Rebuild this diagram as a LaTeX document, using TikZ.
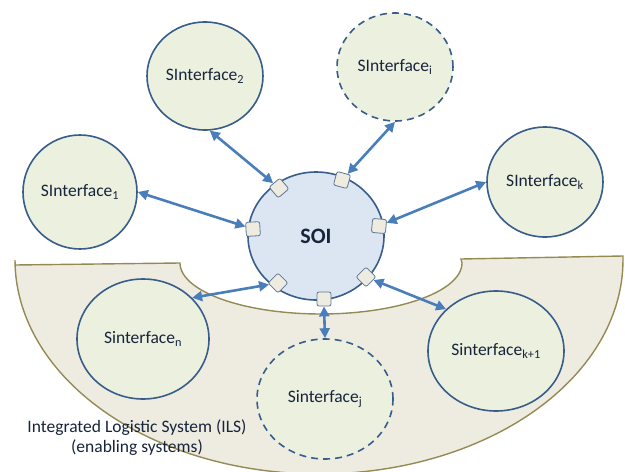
\documentclass[tikz,border=0pt]{standalone}
\usepackage{fontspec}
\setmainfont{Carlito}
\usetikzlibrary{arrows.meta,shapes.geometric}
\definecolor{arrblue}{HTML}{4A7EBB}
\definecolor{circline}{HTML}{385D8A}
\definecolor{circfill}{HTML}{EBF1DE}
\definecolor{soifill}{HTML}{DCE6F2}
\definecolor{ilsfill}{HTML}{EEECE1}
\definecolor{ilsline}{HTML}{948A54}
\definecolor{txt}{HTML}{17243B}
\definecolor{sqline}{HTML}{5F7594}
\tikzset{
  sys/.style={ellipse, draw=circline, fill=circfill, line width=1.6pt, inner sep=0pt,
    text=txt, font=\fontsize{17.5}{20}\selectfont},
  sysdash/.style={sys, dash pattern=on 7pt off 5pt},
  soi/.style={ellipse, draw=circline, fill=soifill, line width=1.6pt, inner sep=0pt,
    text=txt, font=\fontsize{22}{24}\selectfont\bfseries},
  port/.style={rectangle, draw=sqline, fill=ilsfill, line width=0.8pt, rounded corners=2pt,
    minimum size=14pt, inner sep=0pt},
  link/.style={draw=arrblue, line width=2.6pt,
    {Triangle[length=10pt,width=10pt]}-{Triangle[length=10pt,width=10pt]}},
  ils/.style={draw=ilsline, fill=ilsfill, line width=1.4pt}
}
\begin{document}
\begin{tikzpicture}[x=1pt,y=-1pt]
\useasboundingbox (0,0) rectangle (625,472);
% ILS region
\draw[ils] (15,265) -- (180,263)
  -- plot[domain=180:0,samples=80] ({321+141*cos(\x)},{263+51*sin(\x)})
  -- (461,259) -- (623,256)
  -- plot[domain=0:180,samples=120] ({319+304*cos(\x)},{260+214*sin(\x)})
  -- cycle;
\node[text=txt, align=center, font=\fontsize{17.5}{20}\selectfont] (ilslabel) at (137,438)
  {Integrated Logistic System (ILS)\\(enabling systems)};
% systems
\node[sys, minimum width=114pt, minimum height=114pt] (c1) at (80,192) {SInterface\textsubscript{1}};
\node[sys, minimum width=116pt, minimum height=108pt] (c2) at (205,76) {SInterface\textsubscript{2}};
\node[sysdash, minimum width=116pt, minimum height=108pt] (ci) at (395,67) {SInterface\textsubscript{i}};
\node[sys, minimum width=116pt, minimum height=110pt] (ck) at (545,182) {SInterface\textsubscript{k}};
\node[sys, minimum width=132pt, minimum height=120pt] (cn) at (143,339) {Sinterface\textsubscript{n}};
\node[sysdash, minimum width=136pt, minimum height=120pt] (cj) at (325,399) {Sinterface\textsubscript{j}};
\node[sys, minimum width=136pt, minimum height=120pt] (ck1) at (496,351) {Sinterface\textsubscript{k+1}};
% SOI
\node[soi, minimum width=136pt, minimum height=128pt] (soi) at (316,236) {SOI};
% ports
\node[port, rotate=40] (p1) at (279,188) {};
\node[port, rotate=-15] (p2) at (342,180) {};
\node[port, rotate=3] (p3) at (253,229) {};
\node[port, rotate=-5] (p4) at (379,226) {};
\node[port, rotate=45] (p5) at (278,283) {};
\node[port, rotate=45] (p6) at (366,277) {};
\node[port] (p7) at (324,299) {};
% links
\draw[link] (c1.east) -- (p3);
\draw[link] (c2.-85) -- (p1);
\draw[link] (ci.south) -- (p2);
\draw[link] (ck.west) -- (p4);
\draw[link] (cn.40) -- (p5);
\draw[link] (p7.south) -- (cj.north);
\draw[link] (p6) -- (ck1.140);
\end{tikzpicture}
\end{document}
